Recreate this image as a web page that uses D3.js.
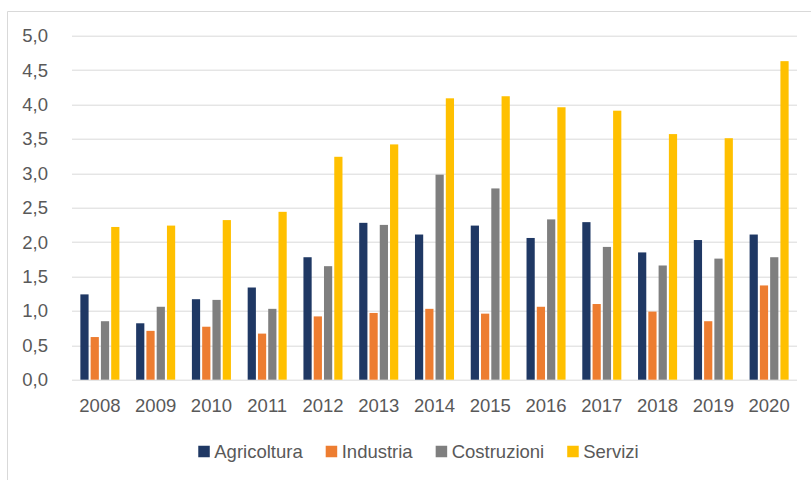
<!DOCTYPE html>
<html>
<head>
<meta charset="utf-8">
<script src="https://cdn.jsdelivr.net/npm/d3@7"></script>
<style>
  body { margin: 0; background: #fff; }
  svg text { font-family: "Liberation Sans", Arial, sans-serif; fill: #595959; }
</style>
</head>
<body>
<svg id="chart" width="811" height="480"></svg>
<script>
// data
var years = ["2008","2009","2010","2011","2012","2013","2014","2015","2016","2017","2018","2019","2020"];
var series = ["Agricoltura", "Industria", "Costruzioni", "Servizi"];
var agricoltura = [1.24, 0.82, 1.17, 1.34, 1.78, 2.28, 2.11, 2.24, 2.06, 2.29, 1.85, 2.03, 2.11];
var industria   = [0.62, 0.71, 0.77, 0.67, 0.92, 0.97, 1.03, 0.96, 1.06, 1.10, 0.99, 0.85, 1.37];
var costruzioni = [0.85, 1.06, 1.16, 1.03, 1.65, 2.25, 2.98, 2.78, 2.33, 1.93, 1.66, 1.76, 1.78];
var servizi     = [2.22, 2.24, 2.32, 2.44, 3.24, 3.42, 4.09, 4.12, 3.96, 3.91, 3.57, 3.51, 4.63];
var yTicks = [0, 0.5, 1, 1.5, 2, 2.5, 3, 3.5, 4, 4.5, 5];
var colors = ["#1F3864", "#ED7D31", "#7F7F7F", "#FFC000"];

var values = [agricoltura, industria, costruzioni, servizi];

var svg = d3.select("#chart");
var margin = {left: 72, right: 14, top: 35.7, bottom: 100.3};
var width = 811 - margin.left - margin.right,
    height = 480 - margin.top - margin.bottom;
var fontSize = "18.5px";

// chart frame (only top and left edges are visible in the crop)
svg.append("line").attr("x1", 7.5).attr("x2", 811).attr("y1", 11.5).attr("y2", 11.5)
    .attr("stroke", "#d9d9d9").attr("stroke-width", 1);
svg.append("line").attr("x1", 7.5).attr("x2", 7.5).attr("y1", 11.5).attr("y2", 480)
    .attr("stroke", "#d9d9d9").attr("stroke-width", 1);

var g = svg.append("g").attr("transform", "translate(" + margin.left + "," + margin.top + ")");

var x0 = d3.scaleBand().domain(years).range([0, width]).paddingInner(0.3).paddingOuter(0.15);
var x1 = d3.scaleBand().domain(series).range([0, x0.bandwidth()]).paddingInner(0.2);
var y = d3.scaleLinear().domain([0, 5]).range([height, 0]);

// gridlines
g.append("g").selectAll("line").data(yTicks).join("line")
    .attr("x1", 0).attr("x2", width)
    .attr("y1", d => Math.round(y(d)) + 0.5).attr("y2", d => Math.round(y(d)) + 0.5)
    .attr("stroke", "#d9d9d9").attr("stroke-width", 1);

// y axis labels
var yAxis = g.append("g").call(d3.axisLeft(y).tickValues(yTicks).tickSize(0).tickPadding(24)
    .tickFormat(d => d3.format(".1f")(d).replace(".", ",")));
yAxis.select(".domain").remove();
yAxis.selectAll("text").attr("font-size", fontSize).style("fill", "#595959")
    .attr("font-family", "Liberation Sans, Arial, sans-serif");

// x axis labels
var xAxis = g.append("g").attr("transform", "translate(0," + height + ")")
    .call(d3.axisBottom(x0).tickSize(0).tickPadding(19));
xAxis.select(".domain").remove();
xAxis.selectAll("text").attr("font-size", fontSize).style("fill", "#595959")
    .attr("font-family", "Liberation Sans, Arial, sans-serif");

// bars
series.forEach(function(s, si) {
    g.append("g").selectAll("rect").data(values[si]).join("rect")
        .attr("x", (d, i) => x0(years[i]) + x1(s))
        .attr("y", d => y(d))
        .attr("width", x1.bandwidth())
        .attr("height", d => height - y(d))
        .attr("fill", colors[si]);
});

// legend
var legend = svg.append("g").attr("transform", "translate(0,451.5)");
var items = legend.selectAll("g").data(series).join("g");
items.append("rect").attr("width", 11.5).attr("height", 11.5).attr("y", -5.75)
    .attr("fill", (d, i) => colors[i]);
items.append("text").attr("x", 16).attr("dy", "0.35em")
    .attr("font-size", fontSize).text(d => d);
var xpos = 0;
items.each(function() {
    var w = 16 + this.querySelector("text").getComputedTextLength();
    d3.select(this).attr("data-x", xpos);
    xpos += w + 23;
});
var total = xpos - 23;
var startX = 418.5 - total / 2;
items.attr("transform", function() { return "translate(" + (startX + (+this.getAttribute("data-x"))) + ",0)"; });
</script>
</body>
</html>
